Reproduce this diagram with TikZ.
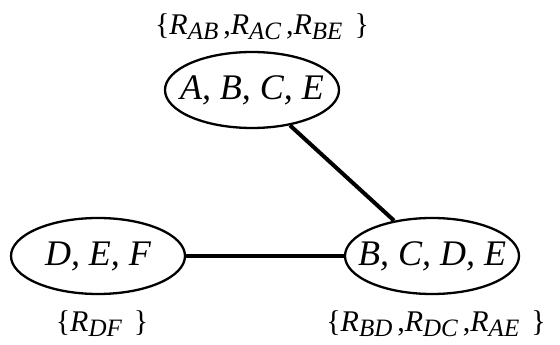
\documentclass[tikz,border=0pt]{standalone}
\usepackage{fontspec}
\setmainfont{Liberation Serif}
\usetikzlibrary{shapes.geometric}
\newcommand{\rsub}[1]{\raisebox{-5pt}{\fontsize{25}{25}\selectfont\itshape #1}}
\newcommand{\rr}[1]{{\itshape R}\rsub{#1}}
\newcommand{\cm}{\hspace{5pt},}
\tikzset{
  clique/.style={ellipse, draw, line width=2.3pt, minimum width=174pt, minimum height=76pt, inner sep=0pt,
    font=\fontsize{36}{40}\selectfont\itshape},
  setlbl/.style={inner sep=0pt, font=\fontsize{30}{34}\selectfont},
  edge/.style={line width=4pt}
}
\begin{document}
\begin{tikzpicture}[x=1pt,y=1pt]
\useasboundingbox (0,0) rectangle (560,345);
\node[clique] (top) at (252,255) {\makebox[0pt]{A, B, C, E}};
\node[clique] (left) at (98,89) {\makebox[0pt]{D, E, F}};
\node[clique] (right) at (432,89) {\makebox[0pt]{B, C, D, E}};
\node[setlbl] (stop) at (262,318) {\{\rr{AB}\cm\rr{AC}\cm\rr{BE}\hspace{12pt}\}};
\node[setlbl] (sleft) at (102,21) {\{\rr{DF}\hspace{12pt}\}};
\node[setlbl] (sright) at (436,21) {\{\rr{BD}\cm\rr{DC}\cm\rr{AE}\hspace{12pt}\}};
\draw[edge] (top.-43) -- (right.137);
\draw[edge] (left) -- (right);
\end{tikzpicture}
\end{document}
